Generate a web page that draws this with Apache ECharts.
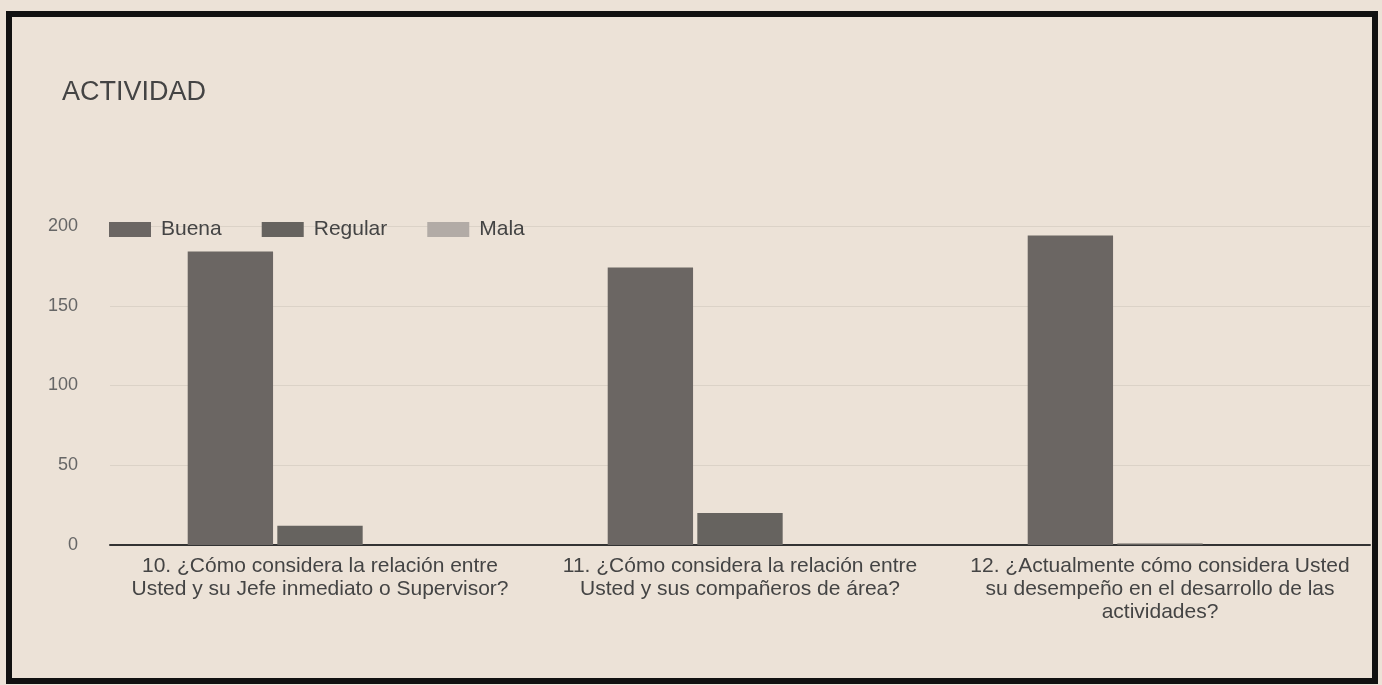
<!DOCTYPE html>
<html>
<head>
<meta charset="utf-8">
<title>ACTIVIDAD</title>
<script src="https://cdn.jsdelivr.net/npm/echarts@6/dist/echarts.min.js"></script>
<style>
	html, body { margin: 0; padding: 0; background: #ece2d7; }
	#chart { width: 1382px; height: 685px; }
</style>
</head>
<body>
<div id="chart"></div>
<script>
	// preguntas (eje X)
	var categorias = [
		'10. ¿Cómo considera la relación entre\nUsted y su Jefe inmediato o Supervisor?',
		'11. ¿Cómo considera la relación entre\nUsted y sus compañeros de área?',
		'12. ¿Actualmente cómo considera Usted\nsu desempeño en el desarrollo de las\nactividades?'
	];
	// respuestas por opción
	var buena = [184, 174, 194];
	var regular = [12, 20, 1];
	var mala = [0, 0, 0];
	var yTicks = [0, 50, 100, 150, 200];

	var myChart = echarts.init(document.getElementById('chart'));
	var option = {
		backgroundColor: '#ece2d7',
		animation: false,
		color: ['#6b6663', '#66635f', '#b2aba6'],
		title: {
			text: 'ACTIVIDAD',
			left: 57,
			top: 74,
			textStyle: { fontFamily: 'Liberation Sans, Arial', fontSize: 27, fontWeight: 'normal', color: '#444' }
		},
		legend: {
			left: 104,
			top: 214,
			icon: 'rect',
			itemWidth: 42,
			itemHeight: 15,
			itemGap: 40,
			textStyle: { fontFamily: 'Liberation Sans, Arial', fontSize: 21, color: '#444', padding: [0, 0, 0, 5] },
			data: ['Buena', 'Regular', 'Mala']
		},
		grid: { left: 110, right: 12, top: 226, bottom: 140 },
		xAxis: {
			type: 'category',
			data: categorias,
			axisTick: { show: false },
			axisLine: { lineStyle: { color: '#333', width: 2 } },
			axisLabel: {
				interval: 0,
				margin: 10,
				fontFamily: 'Liberation Sans, Arial',
				fontSize: 21,
				lineHeight: 23,
				color: '#444',
				align: 'center'
			}
		},
		yAxis: {
			type: 'value',
			min: yTicks[0],
			max: yTicks[yTicks.length - 1],
			interval: 50,
			axisLine: { show: false },
			axisTick: { show: false },
			splitLine: { lineStyle: { color: '#dbd2c7', width: 1 } },
			axisLabel: { margin: 32, fontFamily: 'Liberation Sans, Arial', fontSize: 18, color: '#666' }
		},
		series: [
			{ name: 'Buena', type: 'bar', data: buena, barCategoryGap: '37%', barGap: '5%' },
			{ name: 'Regular', type: 'bar', data: regular },
			{ name: 'Mala', type: 'bar', data: mala }
		],
		graphic: [{
			type: 'rect',
			shape: { x: 9, y: 14, width: 1366, height: 667 },
			style: { fill: 'none', stroke: '#111', lineWidth: 6 },
			silent: true
		}]
	};
	myChart.setOption(option);
</script>
</body>
</html>
